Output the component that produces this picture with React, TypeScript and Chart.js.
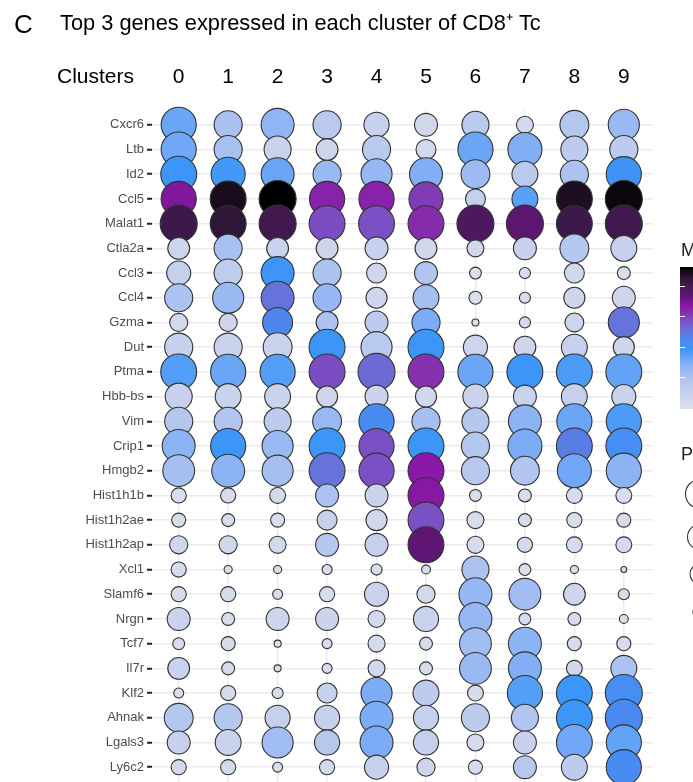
import React, { useEffect, useRef } from "react";
import { Chart, registerables } from "chart.js";

Chart.register(...registerables);

const CLUSTERS = ["0", "1", "2", "3", "4", "5", "6", "7", "8", "9"];

const GENES = [
  "Cxcr6", "Ltb", "Id2", "Ccl5", "Malat1", "Ctla2a", "Ccl3", "Ccl4", "Gzma",
  "Dut", "Ptma", "Hbb-bs", "Vim", "Crip1", "Hmgb2", "Hist1h1b", "Hist1h2ae",
  "Hist1h2ap", "Xcl1", "Slamf6", "Nrgn", "Tcf7", "Il7r", "Klf2", "Ahnak",
  "Lgals3", "Ly6c2",
];

// percent of cells expressing (per gene row, clusters 0..9)
const PCT_EXPRESSED = [
  [95, 76, 89, 76, 68, 62, 73, 46, 78, 84], // Cxcr6
  [95, 76, 73, 59, 76, 54, 95, 92, 73, 76], // Ltb
  [97, 92, 89, 76, 84, 89, 78, 70, 76, 95], // Id2
  [95, 97, 100, 95, 95, 92, 54, 70, 97, 100], // Ccl5
  [100, 97, 100, 97, 97, 97, 100, 100, 97, 100], // Malat1
  [59, 76, 59, 59, 62, 59, 46, 62, 78, 70], // Ctla2a
  [65, 76, 89, 76, 54, 62, 32, 30, 54, 35], // Ccl3
  [76, 84, 89, 76, 57, 70, 35, 30, 57, 62], // Ccl4
  [49, 49, 81, 59, 62, 76, 19, 30, 51, 84], // Gzma
  [76, 76, 78, 97, 84, 97, 65, 59, 70, 57], // Dut
  [97, 95, 95, 97, 100, 97, 95, 97, 97, 97], // Ptma
  [73, 70, 70, 57, 62, 57, 68, 62, 70, 65], // Hbb-bs
  [76, 76, 73, 78, 95, 76, 73, 89, 95, 95], // Vim
  [89, 95, 84, 97, 95, 97, 76, 92, 97, 97], // Crip1
  [86, 89, 84, 97, 95, 97, 76, 78, 92, 95], // Hmgb2
  [41, 41, 43, 62, 62, 97, 32, 35, 43, 43], // Hist1h1b
  [38, 35, 38, 54, 57, 97, 46, 35, 41, 38], // Hist1h2ae
  [49, 49, 46, 62, 62, 97, 46, 41, 43, 43], // Hist1h2ap
  [41, 22, 22, 27, 30, 24, 73, 32, 22, 16], // Xcl1
  [41, 41, 27, 41, 65, 49, 89, 86, 59, 30], // Slamf6
  [62, 35, 62, 62, 46, 68, 89, 32, 35, 24], // Nrgn
  [32, 38, 19, 27, 46, 35, 86, 89, 38, 38], // Tcf7
  [59, 35, 19, 27, 46, 35, 86, 89, 43, 70], // Il7r
  [27, 41, 30, 54, 84, 70, 43, 95, 97, 100], // Klf2
  [78, 76, 68, 68, 89, 68, 76, 73, 97, 100], // Ahnak
  [62, 70, 84, 68, 89, 68, 46, 62, 97, 95], // Lgals3
  [41, 41, 27, 41, 65, 49, 38, 62, 70, 95], // Ly6c2
];

// scaled average expression (0..1) (per gene row, clusters 0..9)
const AVG_EXPRESSION = [
  [0.36, 0.23, 0.29, 0.17, 0.11, 0.06, 0.17, 0.05, 0.19, 0.27], // Cxcr6
  [0.35, 0.23, 0.10, 0.08, 0.17, 0.05, 0.36, 0.32, 0.16, 0.16], // Ltb
  [0.42, 0.41, 0.36, 0.27, 0.28, 0.32, 0.26, 0.17, 0.22, 0.44], // Id2
  [0.745, 0.96, 1.0, 0.71, 0.71, 0.66, 0.12, 0.38, 0.95, 0.98], // Ccl5
  [0.88, 0.92, 0.87, 0.63, 0.62, 0.69, 0.84, 0.81, 0.88, 0.87], // Malat1
  [0.08, 0.23, 0.10, 0.08, 0.11, 0.06, 0.06, 0.11, 0.19, 0.12], // Ctla2a
  [0.12, 0.15, 0.43, 0.21, 0.07, 0.2, 0.01, 0.02, 0.06, 0.02], // Ccl3
  [0.22, 0.27, 0.55, 0.28, 0.07, 0.24, 0.01, 0.03, 0.07, 0.07], // Ccl4
  [0.05, 0.07, 0.49, 0.22, 0.16, 0.33, 0.01, 0.04, 0.08, 0.55], // Gzma
  [0.11, 0.1, 0.1, 0.42, 0.17, 0.42, 0.08, 0.07, 0.11, 0.07], // Dut
  [0.39, 0.36, 0.39, 0.63, 0.57, 0.68, 0.36, 0.42, 0.4, 0.37], // Ptma
  [0.11, 0.1, 0.1, 0.07, 0.09, 0.06, 0.1, 0.1, 0.12, 0.1], // Hbb-bs
  [0.19, 0.2, 0.16, 0.27, 0.47, 0.24, 0.19, 0.3, 0.36, 0.4], // Vim
  [0.3, 0.42, 0.27, 0.42, 0.62, 0.42, 0.19, 0.33, 0.52, 0.46], // Crip1
  [0.24, 0.3, 0.24, 0.55, 0.62, 0.73, 0.18, 0.2, 0.35, 0.3], // Hmgb2
  [0.02, 0.02, 0.04, 0.22, 0.1, 0.735, 0.01, 0.02, 0.03, 0.03], // Hist1h1b
  [0.02, 0.02, 0.02, 0.11, 0.06, 0.62, 0.02, 0.03, 0.02, 0.02], // Hist1h2ae
  [0.07, 0.06, 0.05, 0.19, 0.12, 0.8, 0.03, 0.04, 0.04, 0.04], // Hist1h2ap
  [0.03, 0.02, 0.01, 0.02, 0.02, 0.02, 0.22, 0.01, 0.02, 0.02], // Xcl1
  [0.03, 0.03, 0.02, 0.03, 0.1, 0.05, 0.28, 0.25, 0.07, 0.02], // Slamf6
  [0.1, 0.02, 0.08, 0.09, 0.05, 0.1, 0.28, 0.03, 0.03, 0.02], // Nrgn
  [0.02, 0.02, 0.01, 0.02, 0.04, 0.03, 0.25, 0.3, 0.03, 0.03], // Tcf7
  [0.1, 0.03, 0.02, 0.02, 0.05, 0.03, 0.27, 0.32, 0.06, 0.22], // Il7r
  [0.02, 0.04, 0.02, 0.11, 0.33, 0.16, 0.03, 0.39, 0.42, 0.46], // Klf2
  [0.19, 0.19, 0.12, 0.12, 0.33, 0.12, 0.16, 0.2, 0.42, 0.48], // Ahnak
  [0.11, 0.1, 0.25, 0.18, 0.33, 0.12, 0.04, 0.11, 0.35, 0.37], // Lgals3
  [0.05, 0.05, 0.02, 0.05, 0.12, 0.08, 0.04, 0.18, 0.16, 0.47], // Ly6c2
];

const COLOR_STOPS: [number, string][] = [
  [0.0, "#dbe0eb"],
  [0.08, "#cdd5ec"],
  [0.16, "#bccbee"],
  [0.24, "#a6bff1"],
  [0.3, "#8cb3f4"],
  [0.36, "#6aa5f6"],
  [0.42, "#3c96f8"],
  [0.5, "#4f85ec"],
  [0.56, "#6a6fd8"],
  [0.63, "#7c4cc2"],
  [0.68, "#8530ad"],
  [0.73, "#8a18a8"],
  [0.8, "#5f1574"],
  [0.86, "#451a54"],
  [0.92, "#2e1638"],
  [1.0, "#000000"],
];

const FONT = "'Liberation Sans', Arial, Helvetica, sans-serif";

function hexToRgb(h: string) {
  const n = parseInt(h.slice(1), 16);
  return [(n >> 16) & 255, (n >> 8) & 255, n & 255];
}

function colorFor(v: number) {
  const t = Math.max(0, Math.min(1, v));
  for (let i = 1; i < COLOR_STOPS.length; i++) {
    const [p1, c1] = COLOR_STOPS[i - 1];
    const [p2, c2] = COLOR_STOPS[i];
    if (t <= p2) {
      const f = (t - p1) / (p2 - p1);
      const a = hexToRgb(c1);
      const b = hexToRgb(c2);
      const r = a.map((x, k) => Math.round(x + (b[k] - x) * f));
      return `rgb(${r[0]},${r[1]},${r[2]})`;
    }
  }
  return COLOR_STOPS[COLOR_STOPS.length - 1][1];
}

const MAX_RADIUS = 18.5;

const decorPlugin = {
  id: "decor",
  afterDraw(chart: any) {
    const ctx = chart.ctx as CanvasRenderingContext2D;
    ctx.save();
    ctx.fillStyle = "#000";
    ctx.textBaseline = "alphabetic";
    ctx.textAlign = "left";
    ctx.font = `26px ${FONT}`;
    ctx.fillText("C", 14, 33);
    ctx.font = `21.8px ${FONT}`;
    ctx.fillText("Top 3 genes expressed in each cluster of CD8\u207A Tc", 60, 30);
    ctx.font = `21px ${FONT}`;
    ctx.fillText("Clusters", 57, 83);

    // colour legend (cut at the edge)
    ctx.font = `18px ${FONT}`;
    ctx.fillStyle = "#222";
    ctx.fillText("M", 681, 256);
    const top = 267;
    const bottom = 409;
    const g = ctx.createLinearGradient(0, bottom, 0, top);
    COLOR_STOPS.forEach(([p, c]) => g.addColorStop(p, c));
    ctx.fillStyle = g;
    ctx.fillRect(680, top, 20, bottom - top);
    ctx.strokeStyle = "#fff";
    ctx.lineWidth = 1;
    [286, 316, 347, 377].forEach((y) => {
      ctx.beginPath();
      ctx.moveTo(680, y + 0.5);
      ctx.lineTo(685, y + 0.5);
      ctx.stroke();
    });

    // size legend (cut at the edge)
    ctx.fillStyle = "#222";
    ctx.fillText("P", 681, 460);
    ctx.strokeStyle = "#333";
    ctx.lineWidth = 1.1;
    [
      [494, 14.5],
      [537, 12.5],
      [574, 10],
      [612, 7],
    ].forEach(([y, r]) => {
      ctx.beginPath();
      ctx.arc(700, y, r, 0, Math.PI * 2);
      ctx.fillStyle = "#fff";
      ctx.fill();
      ctx.stroke();
    });
    ctx.restore();
  },
};

export default function App() {
  const ref = useRef<HTMLCanvasElement | null>(null);

  useEffect(() => {
    document.body.style.margin = "0";
    const canvas = ref.current;
    if (!canvas) return;

    const points: any[] = [];
    GENES.forEach((_, gi) => {
      CLUSTERS.forEach((__, ci) => {
        points.push({
          x: ci,
          y: gi,
          r: (PCT_EXPRESSED[gi][ci] / 100) * MAX_RADIUS,
          v: AVG_EXPRESSION[gi][ci],
        });
      });
    });

    const chart = new Chart(canvas, {
      type: "bubble",
      data: {
        datasets: [
          {
            data: points,
            backgroundColor: (c: any) => colorFor(c.raw ? c.raw.v : 0),
            borderColor: "#333333",
            borderWidth: 1.1,
            clip: false as any,
          } as any,
        ],
      },
      options: {
        responsive: false,
        animation: false,
        events: [],
        layout: { autoPadding: false, padding: { left: 0, right: 40, top: 60, bottom: 0 } },
        plugins: {
          legend: { display: false },
          tooltip: { enabled: false },
          title: { display: false },
        },
        scales: {
          x: {
            type: "linear",
            position: "top",
            min: -0.54,
            max: 9.59,
            afterBuildTicks: (s: any) => {
              s.ticks = CLUSTERS.map((_, i) => ({ value: i }));
            },
            afterFit: (s: any) => {
              s.height = 50;
              s.paddingLeft = 0;
              s.paddingRight = 0;
              s.paddingTop = 0;
              s.paddingBottom = 0;
            },
            ticks: {
              callback: (v: any) => CLUSTERS[v] ?? "",
              font: { family: FONT, size: 21 },
              color: "#000",
              padding: 20,
              maxRotation: 0,
              autoSkip: false,
            },
            grid: { color: "#ebebeb", lineWidth: 1.5, drawTicks: false },
            border: { display: false },
          },
          y: {
            type: "linear",
            reverse: true,
            min: -0.6,
            max: 26.6,
            afterBuildTicks: (s: any) => {
              s.ticks = GENES.map((_, i) => ({ value: i }));
            },
            afterFit: (s: any) => {
              s.width = 152;
              s.paddingLeft = 0;
              s.paddingRight = 0;
              s.paddingTop = 0;
              s.paddingBottom = 0;
            },
            ticks: {
              callback: (v: any) => GENES[v] ?? "",
              font: { family: FONT, size: 13 },
              color: "#4d4d4d",
              padding: 3,
              autoSkip: false,
            },
            grid: {
              color: "#ebebeb",
              lineWidth: 1.5,
              tickColor: "#222",
              tickLength: 5,
              tickWidth: 2,
            },
            border: { display: false },
          },
        },
      } as any,
      plugins: [decorPlugin],
    });

    return () => chart.destroy();
  }, []);

  return (
    <div style={{ width: 693, height: 782, overflow: "hidden" }}>
      <canvas ref={ref} width={693} height={782} style={{ display: "block" }} />
    </div>
  );
}
